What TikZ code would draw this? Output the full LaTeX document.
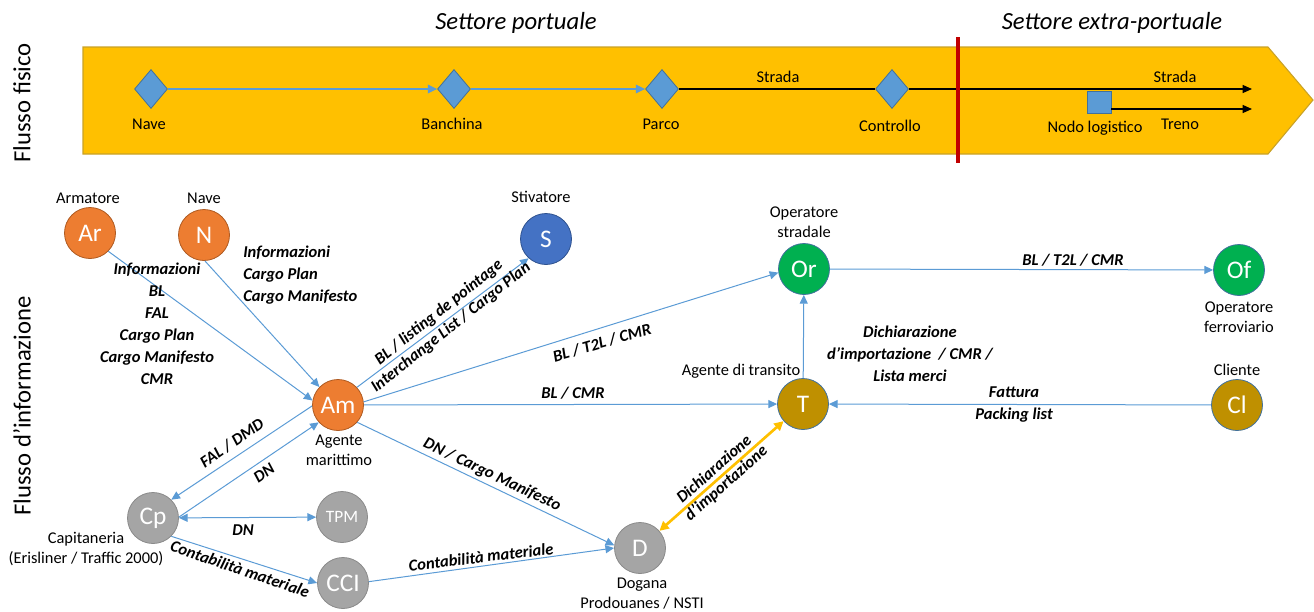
\documentclass[tikz,border=0pt]{standalone}
\usepackage{fontspec}
\setmainfont{Carlito}
\usetikzlibrary{arrows.meta,shapes.geometric}
\definecolor{bandfill}{HTML}{FFC000}
\definecolor{bandline}{HTML}{C9A227}
\definecolor{redline}{HTML}{C00000}
\definecolor{edgeblue}{HTML}{5B9BD5}
\definecolor{dfill}{HTML}{5B9BD5}
\definecolor{dline}{HTML}{41719C}
\definecolor{corange}{HTML}{ED7D31}
\definecolor{corangeline}{HTML}{AE5A21}
\definecolor{cblue}{HTML}{4472C4}
\definecolor{cblueline}{HTML}{2F528F}
\definecolor{cgreen}{HTML}{00B050}
\definecolor{cgold}{HTML}{BF9000}
\definecolor{cgray}{HTML}{A5A5A5}
\definecolor{cgrayline}{HTML}{8A8A8A}
\definecolor{yarrow}{HTML}{FFC000}
\newcommand\lblfont{\fontsize{12.3}{15}\selectfont}
\newcommand\edgefont{\fontsize{12.4}{15.5}\selectfont\bfseries\itshape}
\newcommand\circfont{\fontsize{19}{20}\selectfont}
\newcommand\bigfont{\fontsize{18.5}{22}\selectfont}
\begin{document}
\begin{tikzpicture}[x=0.75pt,y=-0.75pt,
  circ/.style={circle, minimum size=38.25pt, inner sep=0pt, font=\circfont, text=white, line width=0.6pt},
  orn/.style={circ, fill=corange, draw=corangeline},
  bln/.style={circ, fill=cblue, draw=cblueline},
  grn/.style={circ, fill=cgreen, draw=dline},
  gld/.style={circ, fill=cgold, draw=dline},
  gry/.style={circ, fill=cgray, draw=cgrayline},
  dia/.style={diamond, minimum width=24.75pt, minimum height=29.25pt, inner sep=0pt, fill=dfill, draw=dline, line width=0.6pt},
  lbl/.style={font=\lblfont, align=center, inner sep=0pt},
  elbl/.style={font=\edgefont, align=center, inner sep=0pt},
  info/.style={draw=edgeblue, line width=0.75pt, -{Triangle[length=6.5pt,width=6pt]}},
  infob/.style={draw=edgeblue, line width=0.75pt, {Triangle[length=6.5pt,width=6pt]}-{Triangle[length=6.5pt,width=6pt]}},
  phys/.style={draw=edgeblue, line width=1.1pt, -{Triangle[length=7pt,width=6.5pt]}},
  physk/.style={draw=black, line width=0.9pt},
  physka/.style={draw=black, line width=0.9pt, -{Triangle[length=7pt,width=6pt]}}
]
\path[use as bounding box] (0,0) rectangle (1314,611);

% ---------- physical flow band ----------
\fill[bandfill, draw=bandline, line width=0.8pt] (83,47) -- (1268,47) -- (1313,100) -- (1268,154) -- (83,154) -- cycle;
\node[font=\bigfont\itshape, inner sep=0pt] (tport) at (516,23) {Settore portuale};
\node[font=\bigfont\itshape, inner sep=0pt] (text) at (1112,23) {Settore extra-portuale};
\node[font=\bigfont, rotate=90, inner sep=0pt] (tfis) at (22,103) {Flusso fisico};
\node[font=\bigfont, rotate=90, inner sep=0pt] (tinf) at (22,406) {Flusso d’informazione};

\node[dia] (pnave) at (151,89) {};
\node[dia] (pban) at (454,89) {};
\node[dia] (ppar) at (662,89) {};
\node[dia] (pcon) at (892,89) {};
\node[fill=dfill, draw=dline, line width=0.6pt, minimum width=18pt, minimum height=16.5pt, inner sep=0pt] (pnodo) at (1099,102) {};
\coordinate (strend) at (1252,89);
\coordinate (treend) at (1252,109);

\draw[phys] (pnave) -- (pban);
\draw[phys] (pban) -- (ppar);
\draw[physk] (ppar) -- (pcon);
\draw[physka] (pcon) -- (strend);
\draw[physka] (pnodo.east |- treend) -- (treend);

\draw[redline, line width=2.4pt] (958,37) coordinate (rtop) -- (958,163) coordinate (rbot);

\node[lbl] (lnave) at (149,124) {Nave};
\node[lbl] (lban) at (452,124) {Banchina};
\node[lbl] (lpar) at (661,124) {Parco};
\node[lbl] (lcon) at (890,126) {Controllo};
\node[lbl] (lnodo) at (1095,128) {Nodo logistico};
\node[lbl] (lstr1) at (778,77) {Strada};
\node[lbl] (lstr2) at (1175,77) {Strada};
\node[lbl] (ltre) at (1180,124) {Treno};

% ---------- information flow ----------
\node[orn] (Ar) at (90,233) {Ar};
\node[orn] (N) at (204,235) {N};
\node[bln] (S) at (546,239) {S};
\node[grn] (Or) at (804,269) {Or};
\node[grn] (Of) at (1239,270) {Of};
\node[orn] (Am) at (338,405) {Am};
\node[gld] (T) at (803,404) {T};
\node[gld] (Cl) at (1237,405) {Cl};
\node[gry] (Cp) at (153,518) {Cp};
\node[gry, font=\fontsize{13}{14}\selectfont] (TPM) at (342,517) {TPM};
\node[gry] (CCI) at (343,583) {CCI};
\node[gry] (D) at (640,548) {D};

\node[lbl] (lAr) at (88,198) {Armatore};
\node[lbl] (lN) at (204,198) {Nave};
\node[lbl] (lS) at (541,197) {Stivatore};
\node[lbl] (lOr) at (804,222) {Operatore\\stradale};
\node[lbl] (lOf) at (1239,317) {Operatore\\ferroviario};
\node[lbl] (lT) at (741,371) {Agente di transito};
\node[lbl] (lCl) at (1237,370) {Cliente};
\node[lbl] (lAm) at (339,450) {Agente\\marittimo};
\node[lbl] (lCp) at (86,549) {Capitaneria\\(Erisliner / Traffic 2000)};
\node[lbl] (lD) at (642,594) {Dogana\\Prodouanes / NSTI};

% edges
\draw[info] (Ar.-45) -- (Am.170);
\draw[info] (N.-88) -- (Am.136);
\draw[info] (Am.43) -- (S.228);
\draw[info] (Am.7) -- (Or.188);
\draw[info] (Am) -- (T);
\draw[info] (Am.-42) -- (D.174);
\draw[info] (Am.182) -- (Cp.45);
\draw[info] (Cp.2) -- (Am.222);
\draw[infob] (Cp) -- (TPM);
\draw[info] (Cp.-45) -- (CCI.180);
\draw[info] (CCI.3) -- (D.180);
\draw[draw=yarrow, line width=2pt, {Triangle[length=7pt,width=7pt]}-{Triangle[length=7pt,width=7pt]}] (D) -- (T);
\draw[info] (T) -- (Or);
\draw[info] (Or) -- (Of);
\draw[info] (Cl) -- (T);

% edge labels
\node[elbl] (eAr) at (157,323.5) {Informazioni\\[1pt]BL\\[1pt]FAL\\[1pt]Cargo Plan\\[1pt]Cargo Manifesto\\[1pt]CMR};
\node[elbl, anchor=west, align=left] (eN) at (243,275.5) {Informazioni\\[1pt]Cargo Plan\\[1pt]Cargo Manifesto};
\node[elbl, rotate=38.5] (eS1) at (439,312.4) {BL / listing de pointage};
\node[elbl, rotate=38.5] (eS2) at (451,327.6) {Interchange List / Cargo Plan};
\node[elbl, rotate=16.3] (eOr) at (602,343) {BL / T2L / CMR};
\node[elbl] (eT) at (573,393) {BL / CMR};
\node[elbl, rotate=-25.3] (eD) at (492,475) {DN / Cargo Manifesto};
\node[elbl, rotate=35] (eFAL) at (232,443) {FAL / DMD};
\node[elbl, rotate=35] (eDN1) at (264,473) {DN};
\node[elbl] (eDN2) at (243,530) {DN};
\node[elbl, rotate=-18.8] (eCC1) at (240,569) {Contabilità materiale};
\node[elbl, rotate=6.7] (eCC2) at (481,557) {Contabilità materiale};
\node[elbl, rotate=41.5] (eDT1) at (713.6,468.7) {Dichiarazione};
\node[elbl, rotate=41.5] (eDT2) at (726.4,483.3) {d’importazione};
\node[elbl] (eOf) at (1073,260) {BL / T2L / CMR};
\node[elbl] (eTOr) at (910,354) {Dichiarazione\\[1pt]d’importazione~ / CMR /\\[1pt]Lista merci};
\node[elbl] (eCl) at (1014,405) {Fattura\\[1pt]Packing list};
\end{tikzpicture}
\end{document}
